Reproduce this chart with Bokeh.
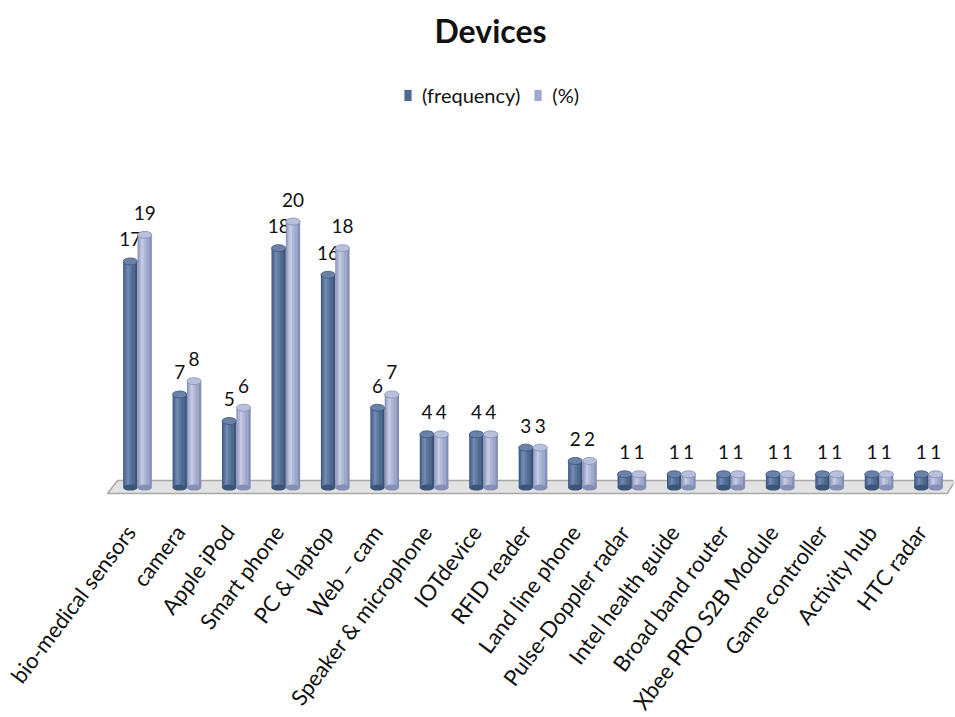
import math
from bokeh.plotting import figure
from bokeh.models import ColumnDataSource, Legend, LegendItem, Label
from bokeh.embed import file_html
from bokeh.resources import INLINE

# ---- data -------------------------------------------------------------
devices = [
    "bio-medical sensors", "camera", "Apple iPod", "Smart phone", "PC & laptop",
    "Web \u2013 cam", "Speaker & microphone", "IOTdevice", "RFID reader",
    "Land line phone", "Pulse-Doppler radar", "Intel health guide",
    "Broad band router", "Xbee PRO S2B Module", "Game controller",
    "Activity hub", "HTC radar",
]
frequency = [17, 7, 5, 18, 16, 6, 4, 4, 3, 2, 1, 1, 1, 1, 1, 1, 1]
percent = [19, 8, 6, 20, 18, 7, 4, 4, 3, 2, 1, 1, 1, 1, 1, 1, 1]
series_names = ["(frequency)", "(%)"]

FONT = "Lato"
BAR_W = 0.29

# the plotting frame spans the whole canvas; the region below zero and
# left of the first column holds the slanted category names
p = figure(
    width=955, height=717,
    x_range=(-2.771, 16.505), y_range=(-17.29, 36.62),
    output_backend="svg", toolbar_location=None,
    x_axis_location=None, y_axis_location=None,
    min_border_left=0, min_border_right=2,
    min_border_top=0, min_border_bottom=0,
)
p.outline_line_color = None
p.xgrid.grid_line_color = None
p.ygrid.grid_line_color = None
p.background_fill_color = "white"
p.border_fill_color = "white"

# floor slab under the bars
p.patch(x=[-0.607, -0.405, 16.54, 16.38], y=[-0.45, 0.53, 0.53, -0.45],
        fill_color="#e2e2e2", line_color="#a9a9a9", line_width=1.5)

# cylinder-like shading: (edge, mid, light, highlight, cap)
shades = [
    ("#3d5479", "#50698f", "#5f79a1", "#7089b0", "#6a82a8"),
    ("#858fb5", "#9ea8cb", "#b0b8d8", "#c4cae3", "#b8c0dc"),
]

legend_items = []
for k, (vals, name) in enumerate(zip([frequency, percent], series_names)):
    off = (-0.5 + k) * BAR_W
    xs = [i + off for i in range(len(devices))]
    edge, mid, light, hi, cap = shades[k]
    src = ColumnDataSource(dict(
        x=xs, top=vals,
        x_mid=[x - 0.05 * BAR_W for x in xs],
        x_light=[x - 0.12 * BAR_W for x in xs],
        x_hi=[x - 0.16 * BAR_W for x in xs],
        label=[str(v) for v in vals],
    ))
    p.vbar(x="x", top="top", bottom=0, width=BAR_W, source=src,
           fill_color=edge, line_color=None)
    r_mid = p.vbar(x="x_mid", top="top", bottom=0, width=BAR_W * 0.78, source=src,
                   fill_color=mid, line_color=None)
    p.vbar(x="x_light", top="top", bottom=0, width=BAR_W * 0.45, source=src,
           fill_color=light, line_color=None)
    p.vbar(x="x_hi", top="top", bottom=0, width=BAR_W * 0.18, source=src,
           fill_color=hi, line_color=None)
    # rounded top and bottom of each column
    p.ellipse(x="x", y=0, width=BAR_W, height=6, height_units="screen",
              source=src, fill_color=edge, line_color=None)
    p.ellipse(x="x", y="top", width=BAR_W, height=7, height_units="screen",
              source=src, fill_color=cap, line_color=edge, line_width=0.8)
    # value labels
    p.text(x="x", y="top", text="label", source=src,
           text_align="center", text_baseline="bottom", y_offset=-15,
           text_font={"value": FONT}, text_font_size="19px", text_color="#111111")
    legend_items.append(LegendItem(label=name, renderers=[r_mid]))

# slanted category names under the floor
cat_src = ColumnDataSource(dict(x=list(range(len(devices))),
                                y=[0] * len(devices), name=devices))
p.text(x="x", y="y", text="name", source=cat_src,
       angle=math.radians(53), text_align="right", text_baseline="top",
       x_offset=-18, y_offset=32,
       text_font={"value": FONT}, text_font_size="22px", text_color="#111111")

# title
p.add_layout(Label(x=490, y=687, x_units="screen", y_units="screen",
                   text="Devices", text_align="center", text_baseline="middle",
                   text_font=FONT, text_font_size="32px", text_font_style="bold",
                   text_color="#111111"))

legend = Legend(items=legend_items, orientation="horizontal",
                location=(403, 610), glyph_width=9, glyph_height=14,
                label_standoff=10, spacing=13, padding=0, margin=0,
                label_text_font=FONT, label_text_font_size="20px",
                label_text_color="#111111", border_line_color=None,
                background_fill_alpha=0)
p.add_layout(legend)

open("out.html", "w").write(file_html(p, INLINE))
